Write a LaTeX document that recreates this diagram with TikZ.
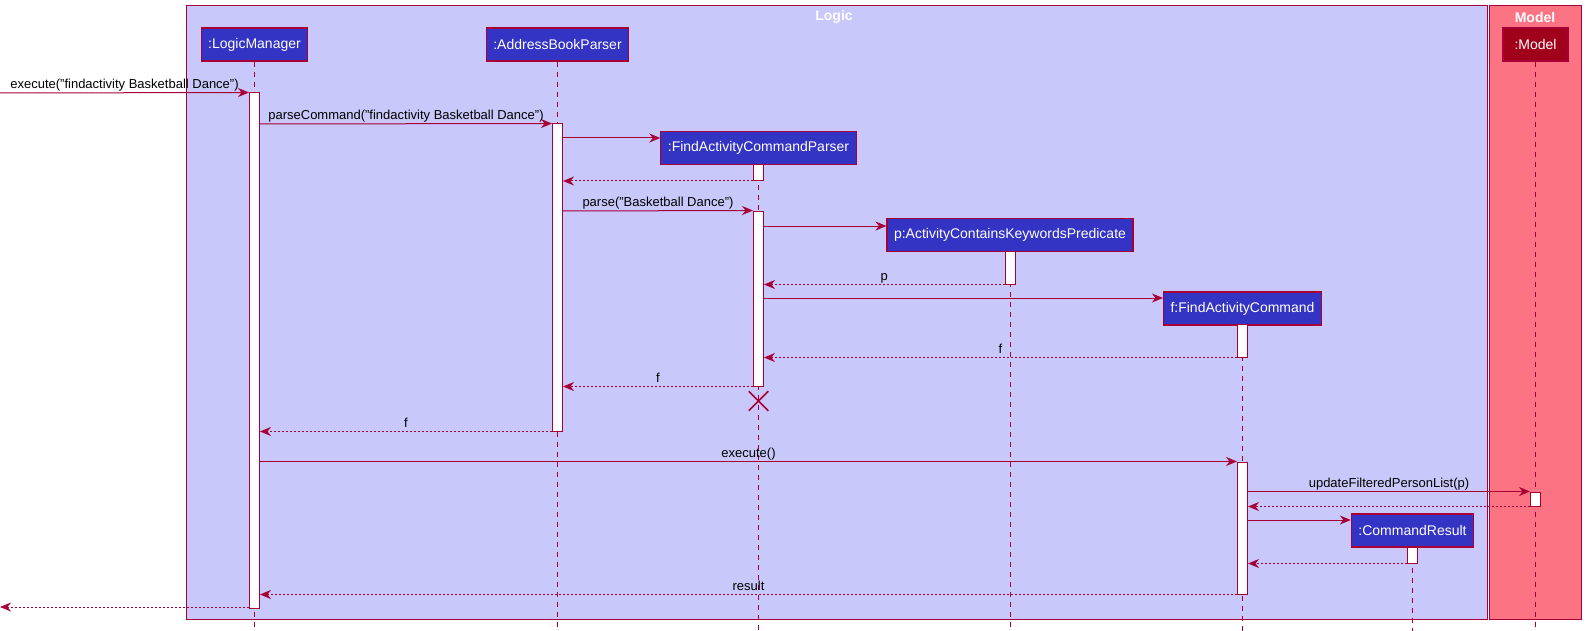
\documentclass[tikz,border=0pt]{standalone}
\usepackage{fontspec}
\setmainfont{Liberation Sans}
\usetikzlibrary{arrows.meta}
\usetikzlibrary{shapes.misc}

\definecolor{umlline}{HTML}{A80036}
\definecolor{logicbg}{HTML}{C8C8FA}
\definecolor{modelbg}{HTML}{FC7384}
\definecolor{partbg}{HTML}{3333C4}
\definecolor{modelpart}{HTML}{A0001A}

\tikzset{
  frame/.style={draw=umlline, line width=1pt},
  framelabel/.style={text=white, font=\bfseries\fontsize{14}{16}\selectfont, inner sep=0pt},
  participant/.style={draw=umlline, fill=partbg, text=white, line width=1.2pt,
    minimum height=33pt, inner xsep=7pt, font=\fontsize{14}{16}\selectfont},
  lifeline/.style={draw=umlline, line width=1pt, dash pattern=on 5pt off 5pt},
  actbar/.style={draw=umlline, fill=white, line width=1pt, minimum width=10pt, inner sep=0pt},
  msg/.style={draw=umlline, line width=1pt, -{Stealth[length=11pt,width=9pt,inset=3.5pt]}},
  reply/.style={msg, dash pattern=on 2pt off 2pt},
  msglabel/.style={above, inner sep=1pt, text depth=0.25em, text=black,
    font=\fontsize{13}{15}\selectfont}
}

\begin{document}
\begin{tikzpicture}[x=1pt, y=-1pt]
  \useasboundingbox (0,0) rectangle (1586,631);

  % frames
  \draw[frame, fill=logicbg] (186,6) rectangle (1487,619);
  \draw[frame, fill=modelbg] (1489,6) rectangle (1581,619);
  \node[framelabel] (logicLbl) at (834,17) {Logic};
  \node[framelabel] (modelLbl) at (1535,17) {Model};

  % participants
  \node[participant] (lm) at (254.5,44.5) {:LogicManager};
  \node[participant] (abp) at (557.5,44.5) {:AddressBookParser};
  \node[participant] (facp) at (758.5,148) {:FindActivityCommandParser};
  \node[participant] (pred) at (1010,235) {p:ActivityContainsKeywordsPredicate};
  \node[participant] (fac) at (1242.5,308.5) {f:FindActivityCommand};
  \node[participant] (cr) at (1412.5,530.5) {:CommandResult};
  \node[participant, fill=modelpart, minimum width=65pt] (model) at (1535.5,44.5) {:Model};

  % lifelines
  \foreach \p in {lm,abp,facp,pred,fac,cr,model}
    \draw[lifeline] (\p.south) -- (\p.south |- 0,631);

  % activation bars
  \node[actbar, minimum height=515pt] (lmA) at (lm |- 0,350.5) {};
  \node[actbar, minimum height=307pt] (abpA) at (abp |- 0,277.5) {};
  \node[actbar, minimum height=16pt] (facpA) at (facp |- 0,172.5) {};
  \node[actbar, minimum height=175pt] (facpB) at (facp |- 0,298.5) {};
  \node[actbar, minimum height=33pt] (predA) at (pred |- 0,267.5) {};
  \node[actbar, minimum height=33pt] (facA) at (fac |- 0,340.5) {};
  \node[actbar, minimum height=132pt] (facB) at (fac |- 0,528) {};
  \node[actbar, minimum height=14pt] (modelA) at (model |- 0,499) {};
  \node[actbar, minimum height=16pt] (crA) at (cr |- 0,555) {};

  % destroy mark
  \node[cross out, draw=umlline, line width=1.5pt, minimum size=18pt, inner sep=0pt]
    (facpX) at (facp |- 0,401) {};

  % free ends
  \coordinate (inStart) at (0,93);
  \coordinate (outEnd) at (0,607);

  % messages
  \draw[msg] (inStart) -- (lmA.north west)
    node[msglabel, midway] {execute("findactivity Basketball Dance")};
  \draw[msg] (lmA.east |- 0,124) -- (abpA.north west)
    node[msglabel, midway] {parseCommand("findactivity Basketball Dance")};
  \draw[msg] (abpA.east |- 0,138) -- (facp.west |- 0,138);
  \draw[reply] (facpA.south west) -- (abpA.east |- facpA.south);
  \draw[msg] (abpA.east |- 0,211) -- (facpB.north west)
    node[msglabel, midway] {parse("Basketball Dance")};
  \draw[msg] (facpB.east |- 0,226) -- (pred.west |- 0,226);
  \draw[reply] (predA.south west) -- (facpB.east |- predA.south)
    node[msglabel, midway] {p};
  \draw[msg] (facpB.east |- 0,298) -- (fac.west |- 0,298);
  \draw[reply] (facA.south west) -- (facpB.east |- facA.south)
    node[msglabel, midway] {f};
  \draw[reply] (facpB.south west) -- (abpA.east |- facpB.south)
    node[msglabel, midway] {f};
  \draw[reply] (abpA.south west) -- (lmA.east |- abpA.south)
    node[msglabel, midway] {f};
  \draw[msg] (lmA.east |- facB.north) -- (facB.north west)
    node[msglabel, midway] {execute()};
  \draw[msg] (facB.east |- modelA.north) -- (modelA.north west)
    node[msglabel, midway] {updateFilteredPersonList(p)};
  \draw[reply] (modelA.south west) -- (facB.east |- modelA.south);
  \draw[msg] (facB.east |- 0,520) -- (cr.west |- 0,520);
  \draw[reply] (crA.south west) -- (facB.east |- crA.south);
  \draw[reply] (facB.south west) -- (lmA.east |- facB.south)
    node[msglabel, midway] {result};
  \draw[reply] (lmA.west |- outEnd) -- (outEnd);
\end{tikzpicture}
\end{document}
